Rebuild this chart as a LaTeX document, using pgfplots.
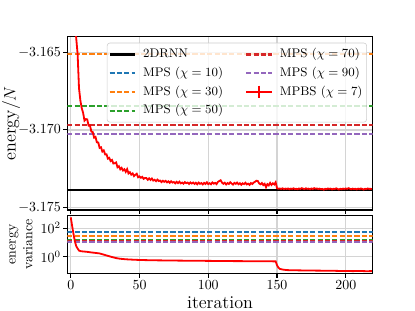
\documentclass[border=0pt]{standalone}
\usepackage{pgfplots}
\pgfplotsset{compat=1.18}
\definecolor{tabblue}{HTML}{1F77B4}
\definecolor{taborange}{HTML}{FF7F0E}
\definecolor{tabgreen}{HTML}{2CA02C}
\definecolor{tabred}{HTML}{D62728}
\definecolor{tabpurple}{HTML}{9467BD}
\pgfplotsset{
  mystyle/.style={
    width=219.9pt, scale only axis,
    xmin=-2.5, xmax=219.6,
    tick align=outside, xtick pos=bottom, ytick pos=left,
    grid=major, major grid style={black!17, line width=0.9pt},
    axis line style={line width=0.8pt},
    major tick length=3pt,
    every tick/.style={black, line width=0.8pt},
    tick label style={font=\normalsize},
    yticklabel style={inner sep=1.5pt},
    xticklabel style={inner sep=2pt},
    xtick={0,50,100,150,200},
  },
  mps/.style={line width=1.5pt, dash pattern=on 3.7pt off 1.6pt},
}
\begin{document}
\begin{tikzpicture}
\begin{axis}[mystyle, at={(0pt,45.72pt)}, anchor=south west, height=124.8pt,
  ymin=-3.17517, ymax=-3.16398,
  ytick={-3.175,-3.170,-3.165}, yticklabels={$-3.175$,$-3.170$,$-3.165$},
  xticklabels={},
  ylabel={energy/$N$},
  ylabel style={font=\fontsize{13}{15}\selectfont, at={(axis description cs:-0.184,0.5)}, anchor=center},
  legend columns=2,
  legend cell align=left,
  legend style={at={(0.981,0.965)}, anchor=north east, font=\small,
    draw=black!20, rounded corners=2pt, fill=white, fill opacity=0.8,
    draw opacity=1, text opacity=1, inner xsep=1pt, inner ysep=1.5pt,
    nodes={inner sep=2pt, text height=7pt, text depth=2.5pt},
    /tikz/every odd column/.append style={column sep=3.2pt},
    /tikz/every even column/.append style={column sep=14pt}},
  legend image code/.code={\draw[mark repeat=2,mark phase=2] plot coordinates {(0cm,0cm) (0.32cm,0cm) (0.64cm,0cm)};},
]
\addplot[black, line width=1.5pt, forget plot] coordinates {(-2.5,-3.17388) (219.6,-3.17388)};
\addplot[tabblue, mps, forget plot] coordinates {(-2.5,-3.1600) (219.6,-3.1600)};
\addplot[taborange, mps, forget plot] coordinates {(-2.5,-3.16510) (219.6,-3.16510)};
\addplot[tabgreen, mps, forget plot] coordinates {(-2.5,-3.16845) (219.6,-3.16845)};
\addplot[tabred, mps, forget plot] coordinates {(-2.5,-3.16966) (219.6,-3.16966)};
\addplot[tabpurple, mps, forget plot] coordinates {(-2.5,-3.17028) (219.6,-3.17028)};
\addplot[red, line width=1.3pt, forget plot] coordinates {
(0,-3.1450)(1,-3.1560)(2,-3.1605)(3,-3.1630)(4,-3.1641)(5,-3.1651)(6,-3.1673)(7,-3.1681)(8,-3.1686)(9,-3.1689)
(10,-3.1694)(11,-3.1693)(12,-3.16932)(13,-3.16973)(14,-3.16972)(15,-3.17011)(16,-3.17014)(17,-3.17050)(18,-3.17045)(19,-3.17080)
(20,-3.17081)(21,-3.17116)(22,-3.17112)(23,-3.17140)(24,-3.17132)(25,-3.17158)(26,-3.17157)(27,-3.17185)(28,-3.17180)(29,-3.17201)
(30,-3.17194)(31,-3.17217)(32,-3.17215)(33,-3.17210)(34,-3.17241)(35,-3.17234)(36,-3.17254)(37,-3.17245)(38,-3.17262)(39,-3.17254)
(40,-3.17271)(41,-3.17253)(42,-3.17281)(43,-3.17273)(44,-3.17289)(45,-3.17281)(46,-3.17298)(47,-3.17290)(48,-3.17283)(49,-3.17306)
(50,-3.17300)(51,-3.17309)(52,-3.17303)(53,-3.17316)(54,-3.17310)(55,-3.17311)(56,-3.17322)(57,-3.17313)(58,-3.17323)(59,-3.17314)
(60,-3.17327)(61,-3.17322)(62,-3.17331)(63,-3.17321)(64,-3.17330)(65,-3.17327)(66,-3.17337)(67,-3.17328)(68,-3.17335)(69,-3.17329)
(70,-3.17339)(71,-3.17332)(72,-3.17341)(73,-3.17331)(74,-3.17340)(75,-3.17336)(76,-3.17345)(77,-3.17335)(78,-3.17343)(79,-3.17334)
(80,-3.17345)(81,-3.17340)(82,-3.17347)(83,-3.17337)(84,-3.17344)(85,-3.17340)(86,-3.17349)(87,-3.17339)(88,-3.17346)(89,-3.17340)
(90,-3.17349)(91,-3.17341)(92,-3.17351)(93,-3.17340)(94,-3.17348)(95,-3.17343)(96,-3.17352)(97,-3.17342)(98,-3.17349)(99,-3.17338)
(100,-3.17350)(101,-3.17344)(102,-3.17351)(103,-3.17339)(104,-3.17347)(105,-3.17342)(106,-3.17350)(107,-3.17336)(108,-3.17330)(109,-3.17325)
(110,-3.17340)(111,-3.17348)(112,-3.17341)(113,-3.17352)(114,-3.17343)(115,-3.17349)(116,-3.17338)(117,-3.17346)(118,-3.17353)(119,-3.17342)
(120,-3.17348)(121,-3.17340)(122,-3.17351)(123,-3.17344)(124,-3.17354)(125,-3.17345)(126,-3.17350)(127,-3.17341)(128,-3.17352)(129,-3.17347)
(130,-3.17355)(131,-3.17343)(132,-3.17349)(133,-3.17340)(134,-3.17335)(135,-3.17328)(136,-3.17330)(137,-3.17345)(138,-3.17351)(139,-3.17343)
(140,-3.17356)(141,-3.17348)(142,-3.17370)(143,-3.17350)(144,-3.17358)(145,-3.17342)(146,-3.17355)(147,-3.17345)(148,-3.17352)(149,-3.17338)
(150,-3.17376)(151,-3.17380)(152,-3.17378)(153,-3.17381)(154,-3.17377)(155,-3.17382)(156,-3.17379)(157,-3.17381)(158,-3.17378)(159,-3.17383)
(160,-3.17379)(161,-3.17381)(162,-3.17377)(163,-3.17382)(164,-3.17380)(165,-3.17383)(166,-3.17378)(167,-3.17381)(168,-3.17376)(169,-3.17380)
(170,-3.17382)(171,-3.17377)(172,-3.17381)(173,-3.17379)(174,-3.17383)(175,-3.17378)(176,-3.17382)(177,-3.17376)(178,-3.17380)(179,-3.17378)
(180,-3.17382)(181,-3.17379)(182,-3.17383)(183,-3.17381)(184,-3.17386)(185,-3.17380)(186,-3.17383)(187,-3.17378)(188,-3.17381)(189,-3.17379)
(190,-3.17384)(191,-3.17380)(192,-3.17382)(193,-3.17377)(194,-3.17381)(195,-3.17385)(196,-3.17380)(197,-3.17383)(198,-3.17379)(199,-3.17382)
(200,-3.17378)(201,-3.17381)(202,-3.17376)(203,-3.17380)(204,-3.17383)(205,-3.17379)(206,-3.17382)(207,-3.17380)(208,-3.17384)(209,-3.17379)
(210,-3.17382)(211,-3.17378)(212,-3.17381)(213,-3.17385)(214,-3.17380)(215,-3.17382)(216,-3.17378)(217,-3.17381)(218,-3.17380)(219,-3.17383)
};
\addlegendimage{black, line width=1.5pt}
\addlegendentry{2DRNN}
\addlegendimage{tabred, mps}
\addlegendentry{MPS ($\chi=70$)}
\addlegendimage{tabblue, mps}
\addlegendentry{MPS ($\chi=10$)}
\addlegendimage{tabpurple, mps}
\addlegendentry{MPS ($\chi=90$)}
\addlegendimage{taborange, mps}
\addlegendentry{MPS ($\chi=30$)}
\addlegendimage{red, line width=1.3pt, mark=|, mark size=4.5pt, mark options={solid, line width=1.3pt}}
\addlegendentry{MPBS ($\chi=7$)}
\addlegendimage{tabgreen, mps}
\addlegendentry{MPS ($\chi=50$)}
\end{axis}
\begin{axis}[mystyle, at={(0pt,0pt)}, anchor=south west, height=41.8pt,
  ymode=log, ymin=0.066, ymax=800, ytick={1,100}, minor ytick={},
  xlabel={iteration},
  xlabel style={font=\fontsize{13}{15}\selectfont, at={(axis description cs:0.5,-0.509)}, anchor=center},
  ylabel={energy\\variance},
  ylabel style={align=center, font=\normalsize, at={(axis description cs:-0.152,0.5)}, anchor=center},
]
\addplot[tabblue, mps] coordinates {(-2.5,58) (219.6,58)};
\addplot[taborange, mps] coordinates {(-2.5,27) (219.6,27)};
\addplot[tabgreen, mps] coordinates {(-2.5,15) (219.6,15)};
\addplot[tabred, mps] coordinates {(-2.5,12.3) (219.6,12.3)};
\addplot[tabpurple, mps] coordinates {(-2.5,10.3) (219.6,10.3)};
\addplot[red, line width=1.3pt] coordinates {
(0,590)(1,150)(2,40)(3,12)(4,5.5)(5,3.8)(6,2.7)(7,2.5)(8,2.4)(10,2.3)(12,2.2)(15,2.0)(18,1.85)(21,1.7)(24,1.4)(27,1.15)(30,0.95)(33,0.8)(36,0.72)(40,0.66)(45,0.62)(50,0.59)(60,0.56)(70,0.545)(80,0.53)(90,0.52)(100,0.51)(110,0.5)(120,0.49)(130,0.485)(140,0.48)(149,0.47)
(150,0.25)(151,0.17)(152,0.14)(154,0.125)(157,0.115)(160,0.112)(165,0.11)(170,0.108)(180,0.105)(190,0.103)(195,0.1)(200,0.1)(205,0.097)(210,0.099)(215,0.096)(219,0.097)
};
\end{axis}
\pgfresetboundingbox
\useasboundingbox (-48.46pt,-27pt) rectangle (250.34pt,196.92pt);
\end{tikzpicture}
\end{document}
